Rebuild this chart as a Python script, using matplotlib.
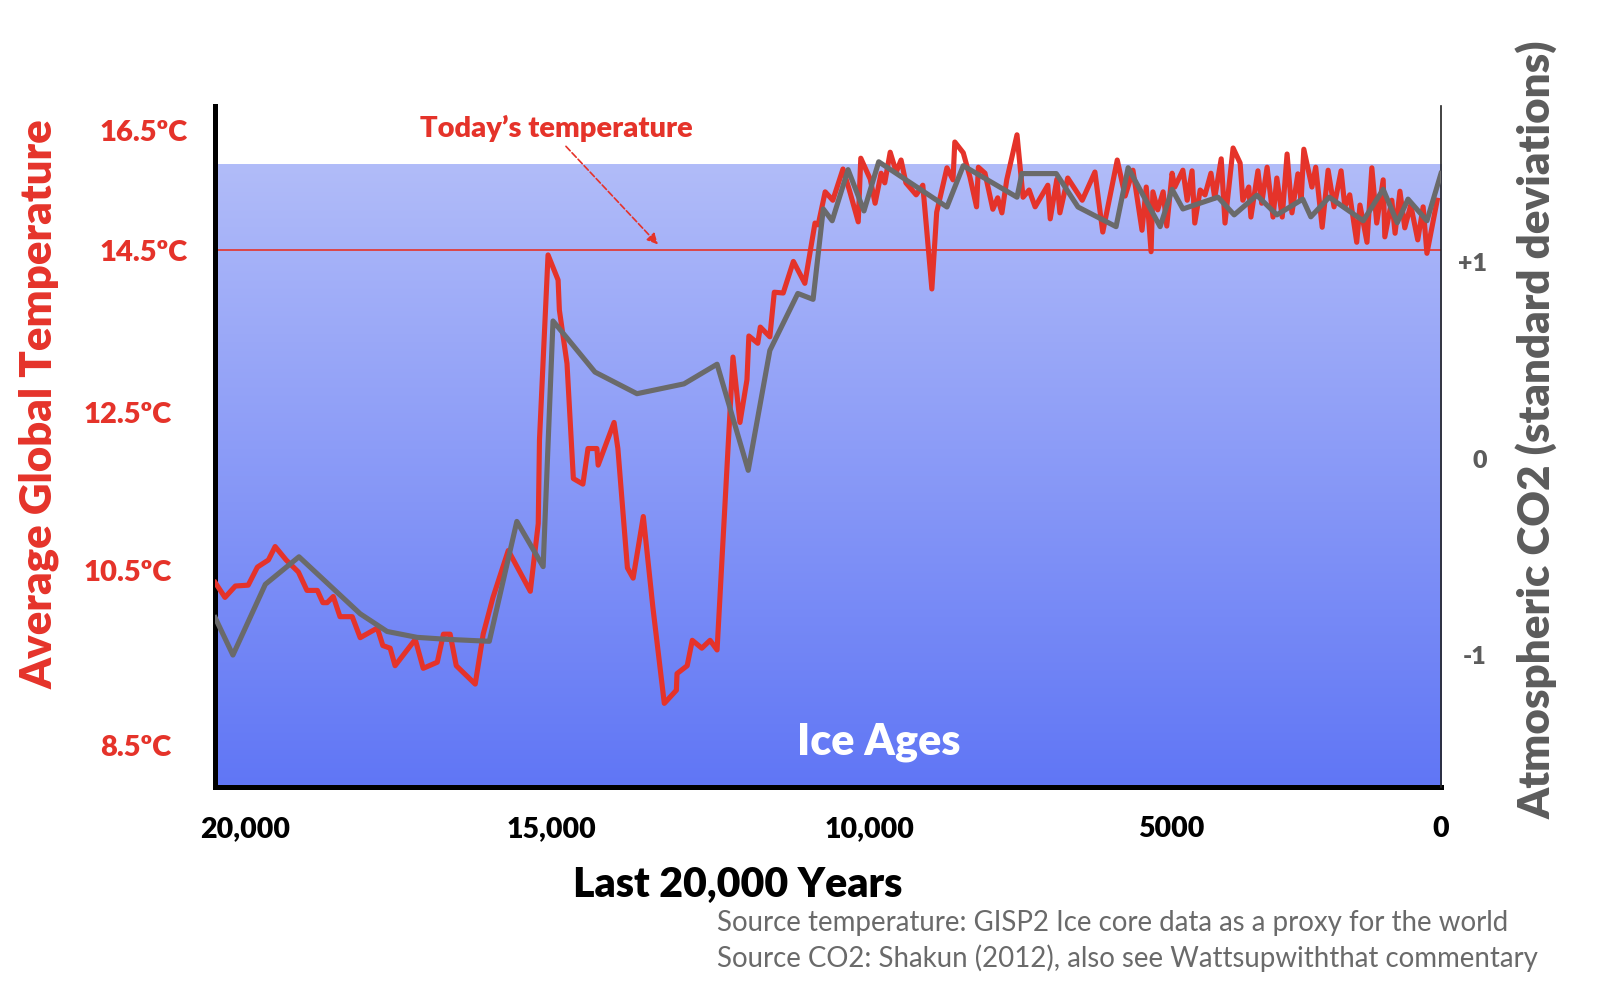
import numpy as np
import matplotlib
matplotlib.use("Agg")
import matplotlib.pyplot as plt
from matplotlib.colors import LinearSegmentedColormap

# GISP2 temperature proxy: years before present / deg C
temp_years = [20490, 20330, 20160, 19950, 19800, 19620, 19510, 19330, 19130, 18990,
              18820, 18730, 18660, 18560, 18450, 18250, 18120, 17840, 17750, 17630,
              17550, 17220, 17090, 16860, 16760, 16650, 16550, 16240, 16110, 15950,
              15700, 15340, 15210, 15190, 15050, 14890, 14870, 14750, 14650, 14500,
              14420, 14280, 14260, 14010, 13950, 13800, 13710, 13550, 13400, 13220,
              13030, 13020, 12860, 12780, 12630, 12500, 12390, 12140, 12030, 11920,
              11890, 11750, 11710, 11560, 11490, 11350, 11190, 11010, 10850, 10800,
              10690, 10570, 10410, 10310, 10170, 10130, 9980, 9900, 9800, 9740,
              9650, 9550, 9470, 9390, 9220, 9110, 8960, 8880, 8710, 8610,
              8580, 8440, 8330, 8220, 8190, 8080, 7950, 7870, 7800, 7720,
              7550, 7450, 7350, 7250, 7040, 7000, 6890, 6840, 6710, 6470,
              6260, 6130, 5890, 5760, 5630, 5480, 5410, 5330, 5300, 5220,
              5130, 5070, 4980, 4930, 4780, 4700, 4610, 4560, 4460, 4370,
              4260, 4190, 4070, 4000, 3850, 3720, 3670, 3560, 3520, 3390,
              3320, 3220, 3110, 3040, 2940, 2850, 2760, 2650, 2590, 2540,
              2390, 2320, 2200, 2090, 1980, 1850, 1780, 1690, 1560, 1500,
              1370, 1280, 1190, 1070, 1040, 910, 850, 760, 670, 560,
              430, 330, 260, 70]
temp_values = [10.36, 10.19, 10.32, 10.33, 10.54, 10.63, 10.80, 10.63, 10.48, 10.27,
               10.27, 10.13, 10.13, 10.20, 9.97, 9.97, 9.73, 9.84, 9.64, 9.61,
               9.41, 9.71, 9.38, 9.45, 9.77, 9.77, 9.41, 9.20, 9.77, 10.19,
               10.75, 10.26, 11.09, 12.15, 14.44, 14.13, 13.76, 13.10, 11.66, 11.59,
               12.04, 12.04, 11.83, 12.37, 12.04, 10.53, 10.41, 11.18, 10.08, 8.98,
               9.13, 9.32, 9.41, 9.70, 9.61, 9.70, 9.59, 13.18, 12.37, 12.90,
               13.44, 13.35, 13.55, 13.43, 13.98, 13.97, 14.36, 14.09, 14.95, 14.92,
               15.47, 15.33, 15.85, 15.50, 14.97, 16.03, 15.68, 15.28, 15.78, 15.62,
               16.13, 15.80, 16.00, 15.62, 15.42, 15.58, 14.02, 15.13, 15.87, 15.67,
               16.30, 16.12, 15.72, 15.22, 15.88, 15.78, 15.18, 15.37, 15.12, 15.67,
               16.42, 15.38, 15.50, 15.22, 15.58, 15.02, 15.68, 15.12, 15.70, 15.33,
               15.80, 14.80, 16.00, 15.40, 15.83, 14.83, 15.55, 14.48, 15.47, 15.17,
               15.47, 14.90, 15.78, 15.55, 15.83, 15.33, 15.82, 14.95, 15.50, 15.42,
               15.78, 15.37, 16.02, 14.95, 16.20, 15.95, 15.33, 15.55, 15.05, 15.82,
               15.28, 15.88, 15.05, 15.70, 15.05, 16.10, 15.12, 15.77, 15.33, 16.18,
               15.55, 15.88, 14.88, 15.83, 15.22, 15.82, 15.22, 15.42, 14.63, 15.25,
               14.63, 15.87, 14.95, 15.67, 14.72, 15.33, 14.78, 15.48, 14.87, 15.25,
               14.67, 15.22, 14.46, 15.33]

# Shakun (2012) CO2: years before present / standard deviations
co2_years = [20490, 20200, 19670, 19120, 18120, 17680, 17190, 16700, 16010, 15560,
             15130, 14970, 14310, 13650, 12910, 12390, 11900, 11560, 11120, 10880,
             10720, 10580, 10330, 10080, 9840, 8710, 8440, 7550, 7470, 6900,
             6540, 5910, 5710, 5180, 4980, 4780, 4130, 3830, 3410, 3040,
             2560, 2410, 2070, 1440, 1070, 810, 610, 260, 0]
co2_values = [-0.81, -1.00, -0.64, -0.50, -0.79, -0.88, -0.91, -0.92, -0.93, -0.32,
              -0.55, 0.70, 0.44, 0.33, 0.38, 0.48, -0.06, 0.55, 0.84, 0.81,
              1.27, 1.21, 1.47, 1.26, 1.51, 1.28, 1.49, 1.33, 1.45, 1.45,
              1.28, 1.18, 1.48, 1.18, 1.37, 1.27, 1.33, 1.24, 1.34, 1.24,
              1.32, 1.23, 1.33, 1.21, 1.37, 1.20, 1.32, 1.21, 1.45]

today_temp = 14.5

year_ticks = [20000, 15000, 10000, 5000, 0]
year_labels = ["20,000", "15,000", "10,000", "5000", "0"]
temp_ticks = [8.5, 10.5, 12.5, 14.5, 16.5]
temp_labels = ["8.5ºC", "10.5ºC", "12.5ºC", "14.5ºC", "16.5ºC"]
co2_ticks = [-1, 0, 1]
co2_labels = ["-1", "0", "+1"]

# the original artwork spaces its ticks unevenly -> piecewise linear scales
YEAR_KNOTS = [-10000, 0, 5000, 10000, 15000, 20000, 40000]
YEAR_POS = [-540, 0, 270, 572, 890, 1196, 2420]
TEMP_KNOTS = [0, 8.5, 10.5, 12.5, 14.5, 16.5, 30]
TEMP_POS = [-702.25, 41.5, 216.5, 374.5, 536.5, 656.5, 1466.5]

RED = "#e5332a"
GREY = "#6a6a6a"
TXT_GREY = "#5c5c5c"
HEAVY = "heavy"


def piecewise(knots, pos):
    fwd = lambda v: np.interp(v, knots, pos)
    inv = lambda p: np.interp(p, pos, knots)
    return fwd, inv


plt.rcParams["font.family"] = ["Lato", "DejaVu Sans"]

fig = plt.figure(figsize=(16, 9.85), dpi=100)
ax = fig.add_axes([0.1341, 0.2015, 0.7665, 0.6909])
ax.set_xscale("function", functions=piecewise(YEAR_KNOTS, YEAR_POS))
ax.set_yscale("function", functions=piecewise(TEMP_KNOTS, TEMP_POS))

# blue gradient background (stops below the top of the frame)
grad_cmap = LinearSegmentedColormap.from_list("ice", ["#6076f5", "#b1bcf9"])
grad = np.linspace(0, 1, 256).reshape(-1, 1)
ax.imshow(grad, cmap=grad_cmap, origin="lower", aspect="auto",
          extent=[0, 1, 0, 0.9148], transform=ax.transAxes, zorder=0)

ax.axhline(today_temp, color=RED, lw=1.2, zorder=2)
ax.plot(temp_years, temp_values, color=RED, lw=3.7, zorder=3)

ax.set_xlim(20500, 0)
ax.set_ylim(8.03, 16.9)

ax.set_xticks(year_ticks, year_labels)
ax.set_yticks(temp_ticks, temp_labels)
ax.tick_params(axis="x", length=0, pad=21, labelsize=20.5)
ax.tick_params(axis="y", length=0, pad=19.5, labelsize=21, labelcolor=RED)
for lab in ax.get_xticklabels():
    lab.set_fontweight(HEAVY)
for lab in ax.get_yticklabels():
    lab.set_fontweight(HEAVY)
    if lab.get_text() in ("8.5ºC", "10.5ºC", "12.5ºC"):
        lab.set_x(-16 / 1226.5)

for side in ("top", "right"):
    ax.spines[side].set_visible(False)
ax.spines["left"].set_linewidth(3.6)
ax.spines["bottom"].set_linewidth(3.6)

ax.annotate("Today’s temperature", xy=(13290, 14.56),
            xytext=(0.2784, 0.9677), textcoords="axes fraction",
            ha="center", va="center", color=RED, fontsize=21, fontweight=HEAVY,
            arrowprops=dict(arrowstyle="-|>", color=RED, lw=1.2, ls="--",
                            mutation_scale=16, relpos=(0.52, 0.0)))

ax.text(0.5418, 0.0654, "Ice Ages", transform=ax.transAxes, ha="center",
        va="center", color="white", fontsize=31, fontweight=HEAVY)

ax.set_xlabel("Last 20,000 Years", fontsize=29.5, fontweight=HEAVY, color="black")
ax.xaxis.set_label_coords(0.4268, -0.117)

# CO2 on the right axis
ax2 = ax.twinx()
ax2.plot(co2_years, co2_values, color=GREY, lw=3.7, zorder=3)
ax2.set_ylim(-1.669, 1.794)
ax2.set_yticks(co2_ticks, co2_labels)
ax2.tick_params(axis="y", length=0, pad=33, labelsize=18, labelcolor=TXT_GREY)
for lab in ax2.get_yticklabels():
    lab.set_fontweight(HEAVY)
    lab.set_horizontalalignment("right")
for side in ("top", "left", "bottom"):
    ax2.spines[side].set_visible(False)
ax2.spines["right"].set_linewidth(1.2)
ax2.spines["right"].set_color("#222222")

fig.text(0.0244, 0.5898, "Average Global Temperature", rotation=90, ha="center",
         va="center", color=RED, fontsize=31.5, fontweight=HEAVY)
fig.text(0.9606, 0.5635, "Atmospheric CO2 (standard deviations)", rotation=90,
         ha="center", va="center", color=TXT_GREY, fontsize=31.6, fontweight=HEAVY)

fig.text(0.4481, 0.0629, "Source temperature: GISP2 Ice core data as a proxy for the world",
         ha="left", va="center", color="#6a6a6a", fontsize=19.9)
fig.text(0.4481, 0.0274, "Source CO2: Shakun (2012), also see Wattsupwiththat commentary",
         ha="left", va="center", color="#6a6a6a", fontsize=19.9)

fig.savefig("out.png", dpi=100)
